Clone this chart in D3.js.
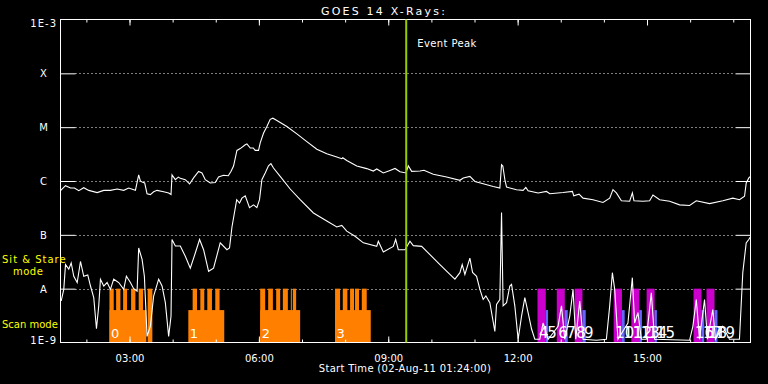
<!DOCTYPE html>
<html>
<head>
<meta charset="utf-8">
<script src="https://cdn.jsdelivr.net/npm/d3@7"></script>
<style>
html, body { margin: 0; padding: 0; background: #000; }
svg { display: block; }
text { font-family: "DejaVu Sans", sans-serif; }
</style>
</head>
<body>
<svg id="chart" width="768" height="384"></svg>
<script>
// GOES 14 X-ray flux, 02-Aug-11; times in decimal hours UT, flux in W/m^2
var longChannel = [
  [1.400,6.6e-7],[1.516,8.2e-7],[1.632,7.4e-7],[1.724,7.4e-7],[1.824,6.6e-7],[1.940,7.5e-7],
  [2.055,6.7e-7],[2.250,6.1e-7],[2.403,6.7e-7],[2.558,6.7e-7],[2.713,7.1e-7],[2.866,6.7e-7],
  [2.981,7.4e-7],[3.137,6.7e-7],[3.213,1.3e-6],[3.252,1.0e-6],[3.292,9.6e-7],[3.352,9.2e-7],
  [3.407,5.8e-7],[3.484,5.6e-7],[3.560,6.3e-7],[3.639,6.7e-7],[3.792,6.3e-7],[3.908,6.0e-7],
  [3.963,5.6e-7],[3.986,1.3e-6],[4.063,1.06e-6],[4.132,1.18e-6],[4.178,1.12e-6],[4.294,1.06e-6],
  [4.394,8.8e-7],[4.486,1.14e-6],[4.602,1.5e-6],[4.681,1.41e-6],[4.757,1.06e-6],[4.873,9.2e-7],
  [4.989,9.4e-7],[5.065,1.19e-6],[5.181,1.28e-6],[5.290,1.25e-6],[5.352,1.5e-6],[5.413,1.9e-6],
  [5.491,3.7e-6],[5.568,4.0e-6],[5.684,4.7e-6],[5.723,4.9e-6],[5.800,4.1e-6],[5.869,4.1e-6],
  [5.915,3.7e-6],[5.992,3.7e-6],[6.031,5.1e-6],[6.107,7.7e-6],[6.186,1.03e-5],[6.262,1.4e-5],
  [6.325,1.47e-5],[6.418,1.33e-5],[6.649,1.03e-5],[6.881,7.5e-6],[7.112,5.4e-6],[7.344,3.9e-6],
  [7.575,3.2e-6],[7.807,2.8e-6],[7.923,2.6e-6],[7.946,2.7e-6],[8.038,2.4e-6],[8.270,1.9e-6],
  [8.501,1.7e-6],[8.654,1.53e-6],[8.733,1.67e-6],[8.886,1.41e-6],[9.041,1.57e-6],[9.157,1.71e-6],
  [9.272,1.49e-6],[9.411,1.41e-6],[9.465,1.92e-6],[9.543,1.51e-6],[9.736,1.53e-6],[9.828,1.58e-6],
  [10.044,1.33e-6],[10.354,1.19e-6],[10.662,1.03e-6],[10.739,1.14e-6],[10.893,1.22e-6],[11.009,9.8e-7],
  [11.201,8.9e-7],[11.433,7.9e-7],[11.588,7.4e-7],[11.627,2.0e-6],[11.657,1.9e-6],[11.704,1.06e-6],
  [11.743,7.7e-7],[11.975,6.9e-7],[12.127,6.7e-7],[12.190,7.6e-7],[12.243,6.6e-7],[12.475,6.0e-7],
  [12.669,6.4e-7],[12.746,5.8e-7],[13.054,6.1e-7],[13.271,6.4e-7],[13.301,5.3e-7],[13.424,5.7e-7],
  [13.517,4.8e-7],[13.748,4.5e-7],[13.980,4.0e-7],[14.135,4.8e-7],[14.211,6.9e-7],[14.290,6.0e-7],
  [14.406,4.3e-7],[14.598,4.2e-7],[14.661,6.0e-7],[14.698,4.3e-7],[14.906,4.2e-7],[15.061,4.3e-7],
  [15.138,5.5e-7],[15.293,4.5e-7],[15.524,4.2e-7],[15.756,3.6e-7],[15.988,3.5e-7],[16.143,4.3e-7],
  [16.451,3.8e-7],[16.759,4.3e-7],[16.991,4.8e-7],[17.146,4.5e-7],[17.262,5.2e-7],[17.301,9.2e-7],
  [17.362,1.14e-6],[17.390,1.2e-6]
];

var shortChannel = [
  [1.416,5.9e-9],[1.476,9.7e-9],[1.516,2.8e-8],[1.592,2.3e-8],[1.648,3.0e-8],[1.708,1.7e-8],
  [1.787,1.3e-8],[1.863,3.2e-8],[1.939,1.7e-8],[2.032,1.8e-8],[2.095,1.12e-8],[2.171,6.8e-9],
  [2.234,1.8e-9],[2.287,4.8e-9],[2.326,1.49e-8],[2.403,1.12e-8],[2.481,1.3e-8],[2.558,9.7e-9],
  [2.634,1.5e-8],[2.750,1.3e-8],[2.866,9.7e-9],[2.928,1.7e-8],[3.021,1.3e-8],[3.097,1.0e-8],
  [3.176,9.0e-9],[3.213,5.7e-8],[3.292,3.5e-8],[3.345,1.7e-8],[3.407,1.3e-9],[3.484,2.0e-9],
  [3.560,7.3e-9],[3.676,1.5e-8],[3.755,1.12e-8],[3.831,5.5e-9],[3.908,1.3e-9],[3.963,3.1e-9],
  [3.986,8.2e-8],[4.063,6.2e-8],[4.178,6.2e-8],[4.294,4.0e-8],[4.410,2.4e-8],[4.526,4.6e-8],
  [4.625,8.2e-8],[4.718,5.3e-8],[4.834,2.1e-8],[4.949,2.4e-8],[5.104,7.1e-8],[5.259,5.3e-8],
  [5.319,5.7e-8],[5.376,1.4e-7],[5.486,4.5e-7],[5.552,3.9e-7],[5.607,4.8e-7],[5.684,5.3e-7],
  [5.783,3.2e-7],[5.876,3.6e-7],[5.954,3.2e-7],[6.015,4.5e-7],[6.070,1.06e-6],[6.147,1.41e-6],
  [6.223,1.92e-6],[6.279,2.1e-6],[6.339,1.74e-6],[6.494,1.22e-6],[6.726,7.1e-7],[6.957,4.5e-7],
  [7.265,2.55e-7],[7.575,1.8e-7],[7.807,1.4e-7],[7.923,1.5e-7],[8.038,1.17e-7],[8.230,9.4e-8],
  [8.423,7.1e-8],[8.733,6.1e-8],[8.770,7.6e-8],[8.886,4.8e-8],[9.117,6.1e-8],[9.172,8.2e-8],
  [9.233,5.3e-8],[9.388,5.3e-8],[9.503,7.6e-8],[9.580,6.3e-8],[9.774,6.1e-8],[9.967,4.3e-8],
  [10.198,2.8e-8],[10.430,1.84e-8],[10.546,1.5e-8],[10.662,1.98e-8],[10.715,2.8e-8],[10.777,1.84e-8],
  [10.893,3.7e-8],[10.955,2.0e-8],[11.048,1.7e-8],[11.125,9.7e-9],[11.201,6.3e-9],[11.264,7.3e-9],
  [11.356,5.5e-9],[11.472,1.6e-9],[11.511,5.1e-9],[11.588,6.3e-9],[11.627,2.6e-7],[11.664,4.8e-9],
  [11.743,5.5e-9],[11.819,1.12e-8],[11.859,1.2e-8],[11.935,4.8e-9],[12.012,1.15e-9],[12.091,3.1e-9],
  [12.167,6.8e-9],[12.243,3.6e-9],[12.322,1.8e-9],[12.398,1.15e-9],[12.514,1.15e-9],[12.591,2.3e-9],
  [12.707,1.15e-9],[12.822,1.5e-9],[12.938,2.0e-9],[13.017,4.8e-9],[13.093,1.15e-9],[13.209,3.1e-9],
  [13.285,9.7e-9],[13.348,1.15e-9],[13.440,5.9e-9],[13.517,1.15e-9],[13.827,1.1e-9],[14.058,1.15e-9],
  [14.135,4.8e-9],[14.197,1.98e-8],[14.251,9.7e-9],[14.327,1.15e-9],[14.558,2.3e-9],[14.660,1.6e-8],
  [14.713,2.3e-9],[14.790,3.6e-9],[14.869,1.15e-9],[14.984,1.15e-9],[15.100,8.4e-9],[15.176,1.15e-9],
  [15.987,1.1e-9],[16.064,2.0e-9],[16.143,6.3e-9],[16.218,1.15e-9],[16.334,6.3e-9],[16.403,1.15e-9],
  [16.526,4.1e-9],[16.587,1.15e-9],[16.757,2.0e-9],[16.913,1.15e-9],[17.144,1.15e-9],[17.221,1.98e-8],
  [17.300,7.1e-8],[17.360,8.2e-8],[17.390,9.0e-8]
];

// scan-mode rasters: whole raster span and individual frames
var scanLabels = ["0", "1", "2", "3"];
var scanSpans = [[2.535,3.391],[4.364,5.197],[6.031,6.957],[7.767,8.594]];
var scanFrames = [
  [2.535,2.634],[2.690,2.789],[2.852,2.944],[3.037,3.137],[3.213,3.315],[3.421,3.530],
  [4.464,4.565],[4.642,4.734],[4.804,4.912],[4.989,5.088],
  [6.031,6.147],[6.216,6.325],[6.401,6.494],[6.556,6.672],[6.741,6.764],[6.788,6.864],
  [7.767,7.883],[7.946,8.052],[8.115,8.207],[8.230,8.323],[8.386,8.501]
];
// sit & stare runs and the short companion runs after them
var stareRuns = [[12.461,12.653],[12.908,13.093],[13.324,13.503],[14.227,14.419],
                 [14.637,14.822],[14.991,15.176],[16.079,16.264],[16.380,16.565]];
var stareTails = [[12.653,12.706],[13.093,13.162],[13.503,13.579],[14.419,14.482],
                  [14.822,14.882],[15.176,15.229],[16.264,16.326],[16.565,16.634]];

var levelFlux = [1e-3, 1e-4, 1e-5, 1e-6, 1e-7, 1e-8, 1e-9];
var levelLabels = ["1E-3", "X", "M", "C", "B", "A", "1E-9"];
var eventPeak = 9.4167; // 09:25

var svg = d3.select("#chart");
var plotL = 60.5, plotR = 750.5, plotT = 19.5, plotB = 342.5;
var day = Date.UTC(2011, 7, 2);
function toDate(h) { return new Date(day + h * 3600000); }

var x = d3.scaleUtc().domain([toDate(1.4), toDate(17.4)]).range([plotL, plotR]);
var y = d3.scaleLog().domain([1e-9, 1e-3]).range([plotB, plotT]);

svg.append("rect").attr("width", 768).attr("height", 384).attr("fill", "#000");

svg.append("defs").append("clipPath").attr("id", "plot")
  .append("rect").attr("x", plotL).attr("y", plotT)
  .attr("width", plotR - plotL).attr("height", plotB - plotT);

// dotted level lines
svg.selectAll("line.grid")
  .data(levelFlux.slice(1, 6))
  .enter().append("line")
  .attr("x1", plotL + 15).attr("x2", plotR - 15)
  .attr("y1", function(d) { return Math.round(y(d)) + 0.5; })
  .attr("y2", function(d) { return Math.round(y(d)) + 0.5; })
  .attr("stroke", "#fff").attr("stroke-width", 1)
  .attr("stroke-dasharray", "1,3");

var barTop = y(1e-8), lowTop = y(4e-9);

function span(d) { return x(toDate(d[1])) - x(toDate(d[0])); }
svg.selectAll("rect.scanspan").data(scanSpans).enter().append("rect")
  .attr("x", function(d) { return x(toDate(d[0])); })
  .attr("width", span)
  .attr("y", lowTop).attr("height", plotB - lowTop)
  .attr("fill", "#ff8000");
svg.selectAll("rect.scanframe").data(scanFrames).enter().append("rect")
  .attr("x", function(d) { return x(toDate(d[0])); })
  .attr("width", span)
  .attr("y", barTop).attr("height", plotB - barTop)
  .attr("fill", "#ff8000");
svg.selectAll("rect.stare").data(stareRuns).enter().append("rect")
  .attr("x", function(d) { return x(toDate(d[0])); })
  .attr("width", span)
  .attr("y", barTop).attr("height", plotB - barTop)
  .attr("fill", "#cc00cc");
svg.selectAll("rect.tail").data(stareTails).enter().append("rect")
  .attr("x", function(d) { return x(toDate(d[0])); })
  .attr("width", span)
  .attr("y", lowTop).attr("height", plotB - lowTop)
  .attr("fill", "#6666ff");

// run numbers
svg.selectAll("text.scanlab").data(scanSpans).enter().append("text")
  .attr("x", function(d) { return x(toDate(d[0])) + 1.5; })
  .attr("y", 338).attr("fill", "#fff").attr("font-size", "13px")
  .text(function(d, i) { return scanLabels[i]; });
var stareLabelPos = [];
stareRuns.forEach(function(d, i) {
  stareLabelPos.push({t: d[0], n: 4 + 2 * i});
  stareLabelPos.push({t: stareTails[i][0], n: 5 + 2 * i});
});
svg.selectAll("text.starelab").data(stareLabelPos).enter().append("text")
  .attr("x", function(d) { return x(toDate(d.t)) + 1.5; })
  .attr("y", 338).attr("fill", "#fff").attr("font-size", "15px")
  .text(function(d) { return d.n; });

// flux curves
var line = d3.line()
  .x(function(d) { return x(toDate(d[0])); })
  .y(function(d) { return y(d[1]); });
var curves = svg.append("g").attr("clip-path", "url(#plot)");
[longChannel, shortChannel].forEach(function(series) {
  curves.append("path").datum(series)
    .attr("d", line).attr("fill", "none")
    .attr("stroke", "#fff").attr("stroke-width", 1.1);
});

// axes
function styleAxis(g) {
  g.select(".domain").remove();
  g.selectAll("line").attr("stroke", "#fff");
  g.selectAll("text").attr("fill", "#fff").attr("font-size", "10px")
    .attr("font-family", "DejaVu Sans, sans-serif");
}
svg.append("g").attr("transform", "translate(0," + plotB + ")")
  .call(d3.axisBottom(x).ticks(d3.utcHour.every(1)).tickSize(-3).tickFormat(""))
  .call(styleAxis);
svg.append("g").attr("transform", "translate(0," + plotB + ")")
  .call(d3.axisBottom(x).ticks(d3.utcHour.every(3)).tickSize(-6).tickPadding(12)
    .tickFormat(d3.utcFormat("%H:%M")))
  .call(styleAxis);
svg.append("g").attr("transform", "translate(0," + plotT + ")")
  .call(d3.axisTop(x).ticks(d3.utcHour.every(1)).tickSize(-3).tickFormat(""))
  .call(styleAxis);
svg.append("g").attr("transform", "translate(0," + plotT + ")")
  .call(d3.axisTop(x).ticks(d3.utcHour.every(3)).tickSize(-6).tickFormat(""))
  .call(styleAxis);
svg.append("g").attr("transform", "translate(" + plotL + ",0)")
  .call(d3.axisLeft(y).tickValues(levelFlux.slice(1, 6)).tickSize(-15).tickFormat(""))
  .call(styleAxis);
svg.append("g").attr("transform", "translate(" + plotR + ",0)")
  .call(d3.axisRight(y).tickValues(levelFlux.slice(1, 6)).tickSize(-15).tickFormat(""))
  .call(styleAxis);

svg.append("rect").attr("x", plotL).attr("y", plotT)
  .attr("width", plotR - plotL).attr("height", plotB - plotT)
  .attr("fill", "none").attr("stroke", "#fff").attr("stroke-width", 1);

// level labels
svg.selectAll("text.level").data(levelFlux).enter().append("text")
  .attr("x", function(d, i) { return (i === 0 || i === 6) ? 57 : 43.5; })
  .attr("y", function(d, i) { return y(d) + (i === 0 ? 7.5 : i === 6 ? 1.5 : 4); })
  .attr("text-anchor", function(d, i) { return (i === 0 || i === 6) ? "end" : "middle"; })
  .attr("letter-spacing", function(d, i) { return (i === 0 || i === 6) ? "1px" : "0px"; })
  .attr("fill", "#fff").attr("font-size", "10px")
  .text(function(d, i) { return levelLabels[i]; });

// event peak marker
svg.append("line")
  .attr("x1", x(toDate(eventPeak))).attr("x2", x(toDate(eventPeak)))
  .attr("y1", plotT).attr("y2", plotB)
  .attr("stroke", "#99cc00").attr("stroke-width", 2);
svg.append("text").attr("x", x(toDate(eventPeak)) + 11).attr("y", 47)
  .attr("fill", "#fff").attr("font-size", "10px").attr("letter-spacing", "0.4px")
  .text("Event Peak");

// titles
svg.append("text").attr("x", 384).attr("y", 15).attr("text-anchor", "middle")
  .attr("fill", "#fff").attr("font-size", "11px").attr("letter-spacing", "2.2px")
  .text("GOES 14 X-Rays:");
svg.append("text").attr("x", 405).attr("y", 372).attr("text-anchor", "middle")
  .attr("fill", "#fff").attr("font-size", "10px").attr("letter-spacing", "0.3px")
  .text("Start Time (02-Aug-11 01:24:00)");

// mode labels
svg.append("text").attr("x", 2).attr("y", 263).attr("fill", "#ffff00")
  .attr("font-size", "10px").attr("letter-spacing", "1px").text("Sit & Stare");
svg.append("text").attr("x", 13).attr("y", 275).attr("fill", "#ffff00")
  .attr("font-size", "10px").attr("letter-spacing", "0.5px").text("mode");
svg.append("text").attr("x", 2).attr("y", 328).attr("fill", "#ffff00")
  .attr("font-size", "10px").text("Scan mode");
</script>
</body>
</html>
